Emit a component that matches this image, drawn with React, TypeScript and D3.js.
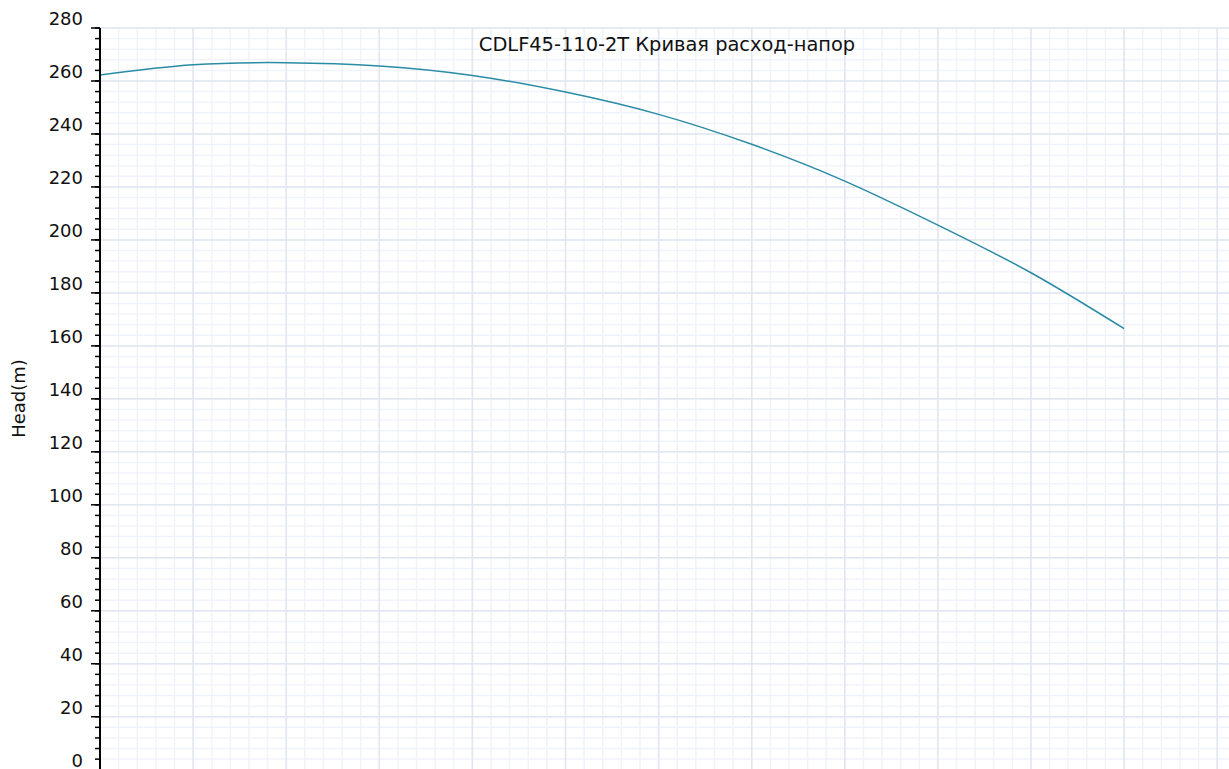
import React from "react";
import * as d3 from "d3";

// flow (m3/h) vs head (m)
const flow = [0, 5, 10, 15, 20, 25, 30, 35, 40, 45, 50, 55];
const head = [262.3, 266.1, 266.9, 265.7, 262.1, 255.8, 247.4, 236.1, 222.2, 205.6, 187.6, 166.5];
const yTicks = [0, 20, 40, 60, 80, 100, 120, 140, 160, 180, 200, 220, 240, 260, 280];
const title = "CDLF45-110-2T Кривая расход-напор";
const yLabel = "Head(m)";

const App = () => {
  const width = 1229;
  const height = 769;
  const margin = { top: 28, left: 100 };

  const xScale = d3.scaleLinear().domain([0, 65]).range([margin.left, margin.left + 65 * 18.62]);
  const yScale = d3.scaleLinear().domain([0, 280]).range([margin.top + 280 * 2.649, margin.top]);

  const xMinor = d3.range(0, 66, 1);
  const xMajor = d3.range(0, 66, 5);
  const yMinor = d3.range(0, 281, 4);

  const points = flow.map((f, i) => [f, head[i]] as [number, number]);
  const line = d3
    .line<[number, number]>()
    .x((d) => xScale(d[0]))
    .y((d) => yScale(d[1]))
    .curve(d3.curveNatural);

  const font = "'DejaVu Sans', sans-serif";
  const x0 = margin.left;

  return (
    <svg
      width={width}
      height={height}
      style={{ position: "absolute", left: 0, top: 0, background: "#fff" }}
    >
      {/* minor grid */}
      {xMinor.map((v) => (
        <line key={"xm" + v} x1={xScale(v)} x2={xScale(v)} y1={yScale(280)} y2={height} stroke="#f0f3fa" strokeWidth={1.5} />
      ))}
      {yMinor.map((v) => (
        <line key={"ym" + v} x1={x0} x2={width} y1={yScale(v)} y2={yScale(v)} stroke="#f0f3fa" strokeWidth={1.5} />
      ))}
      {/* major grid */}
      {xMajor.map((v) => (
        <line key={"xM" + v} x1={xScale(v)} x2={xScale(v)} y1={yScale(280)} y2={height} stroke="#e1e6f0" strokeWidth={1.5} />
      ))}
      {yTicks.map((v) => (
        <line key={"yM" + v} x1={x0} x2={width} y1={yScale(v)} y2={yScale(v)} stroke="#e1e6f0" strokeWidth={1.5} />
      ))}

      {/* curve */}
      <path d={line(points) || ""} fill="none" stroke="#2a8ba4" strokeWidth={1.5} />

      {/* y axis */}
      <line x1={x0} x2={x0} y1={yScale(280)} y2={height} stroke="#000" strokeWidth={2} />
      {yMinor.map((v) => (
        <line key={"tm" + v} x1={x0 - 5} x2={x0} y1={yScale(v)} y2={yScale(v)} stroke="#000" strokeWidth={1.5} />
      ))}
      {yTicks.map((v) => (
        <g key={"t" + v}>
          <line x1={x0 - 9} x2={x0} y1={yScale(v)} y2={yScale(v)} stroke="#000" strokeWidth={1.5} />
          <text x={83} y={yScale(v) - 3} textAnchor="end" fontFamily={font} fontSize={18} fill="#111">
            {v}
          </text>
        </g>
      ))}

      <text
        transform={`translate(25, ${(yScale(280) + height) / 2}) rotate(-90)`}
        textAnchor="middle"
        fontFamily={font}
        fontSize={18}
        fill="#111"
      >
        {yLabel}
      </text>

      <text x={667} y={51} textAnchor="middle" fontFamily={font} fontSize={19.4} fill="#111">
        {title}
      </text>
    </svg>
  );
};

export default App;
